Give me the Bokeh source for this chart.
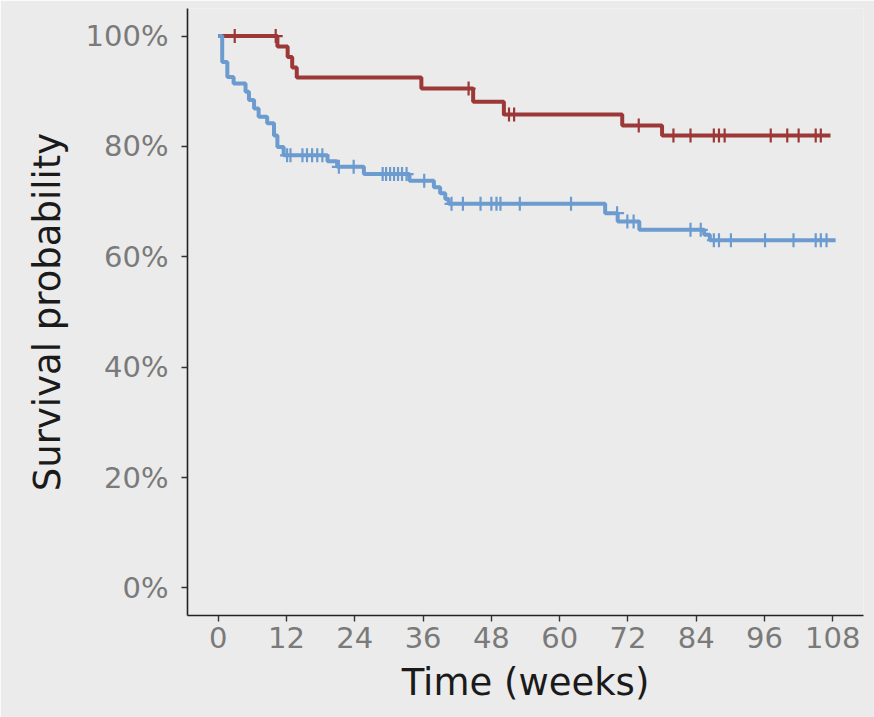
import numpy as np
from bokeh.plotting import figure
from bokeh.models import Range1d, FixedTicker, NumeralTickFormatter
from bokeh.embed import file_html
from bokeh.resources import INLINE

# ---- data ----
red_times = [0, 10.4, 12.2, 13.0, 13.8, 35.7, 44.8, 50.2, 71.0, 78.0]
red_surv = [1.000, 0.981, 0.962, 0.943, 0.925, 0.905, 0.881, 0.858, 0.838, 0.820]
red_end = 107.6
red_censor = [2.9, 10.1, 44.0, 51.1, 52.0, 73.9, 80.0, 83.0, 87.1, 88.0, 89.0,
              97.1, 100.0, 102.0, 105.0, 105.9]

blue_times = [0, 0.7, 1.6, 2.7, 4.8, 5.4, 6.3, 7.1, 8.6, 9.8, 10.4, 11.5,
              19.2, 20.9, 25.6, 33.6, 37.9, 39.0, 39.9, 40.5, 68.0, 70.2,
              74.0, 85.4, 86.4]
blue_surv = [1.000, 0.953, 0.926, 0.914, 0.899, 0.884, 0.869, 0.854, 0.842,
             0.820, 0.799, 0.784, 0.773, 0.763, 0.750, 0.738, 0.726, 0.715,
             0.705, 0.696, 0.679, 0.664, 0.649, 0.640, 0.630]
blue_end = 108.5
blue_censor = [12.1, 12.7, 14.8, 15.6, 16.5, 17.4, 18.3, 21.2, 23.8, 28.9,
               29.5, 30.2, 30.9, 31.6, 32.3, 33.1, 36.2, 41.0, 43.0, 46.1,
               48.0, 48.9, 49.6, 53.0, 62.0, 70.1, 71.9, 73.0, 83.0, 84.8,
               87.1, 88.0, 90.1, 96.1, 101.1, 105.0, 105.9, 106.9]

x_ticks = [0, 12, 24, 36, 48, 60, 72, 84, 96, 108]
y_ticks = [0, 0.2, 0.4, 0.6, 0.8, 1.0]

RED = "#9D3838"
BLUE = "#6C9BCF"
BG = "#EBEBEB"
FONT = "DejaVu Sans"

p = figure(width=874, height=717, output_backend="svg", toolbar_location=None,
           x_range=Range1d(-5.4, 113.4), y_range=Range1d(-0.05, 1.05),
           min_border_left=187, min_border_right=11, min_border_top=8,
           min_border_bottom=102)
p.background_fill_color = BG
p.border_fill_color = BG
p.outline_line_color = None
p.xgrid.visible = False
p.ygrid.visible = False


def level_at(times, surv, t):
    idx = np.searchsorted(np.array(times), np.array(t), side="right") - 1
    return np.array(surv)[idx]


for times, surv, end, cens, col in [
        (red_times, red_surv, red_end, red_censor, RED),
        (blue_times, blue_surv, blue_end, blue_censor, BLUE)]:
    xs = list(times) + [end]
    ys = list(surv) + [surv[-1]]
    p.step(xs, ys, mode="after", line_color=col, line_width=4)
    p.scatter(cens, level_at(times, surv, cens), marker="cross", size=14,
              line_color=col, line_width=2.2)

for ax in (p.xaxis[0], p.yaxis[0]):
    ax.axis_line_color = "#222222"
    ax.axis_line_width = 1.6
    ax.major_tick_line_color = "#333333"
    ax.major_tick_line_width = 1.4
    ax.major_tick_out = 6
    ax.major_tick_in = 0
    ax.minor_tick_line_color = None
    ax.major_label_text_color = "#7A7A7A"
    ax.major_label_text_font = FONT
    ax.major_label_text_font_size = "29px"
    ax.axis_label_text_color = "#1A1A1A"
    ax.axis_label_text_font = FONT
    ax.axis_label_text_font_size = "37px"
    ax.axis_label_text_font_style = "normal"

p.xaxis.ticker = FixedTicker(ticks=x_ticks)
p.yaxis.ticker = FixedTicker(ticks=y_ticks)
p.yaxis.formatter = NumeralTickFormatter(format="0%")
p.xaxis.axis_label = "Time (weeks)"
p.yaxis.axis_label = "Survival probability"
p.xaxis.major_label_standoff = 5
p.yaxis.major_label_standoff = 13
p.xaxis.axis_label_standoff = 10
p.yaxis.axis_label_standoff = 14

open("out.html", "w").write(file_html(p, INLINE))
